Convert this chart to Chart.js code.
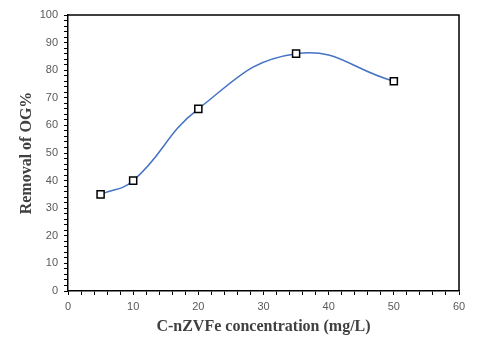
<!DOCTYPE html>
<html>
<head>
<meta charset="utf-8">
<script src="https://cdn.jsdelivr.net/npm/chart.js@4/dist/chart.umd.min.js"></script>
<style>
html,body{margin:0;padding:0;background:#fff;}
#wrap{width:480px;height:338px;position:relative;}
</style>
</head>
<body>
<div id="wrap"><canvas id="c" width="480" height="338"></canvas></div>
<script>
const concentrations = [5, 10, 20, 35, 50];
const removal = [35, 40, 66, 86, 76];
const xTitle = 'C-nZVFe concentration (mg/L)';
const yTitle = 'Removal of OG%';
const xRange = [0, 60];
const yRange = [0, 100];

const points = concentrations.map((x, i) => ({x: x, y: removal[i]}));

const framePlugin = {
  id: 'frame',
  afterDraw(chart) {
    const a = chart.chartArea, ctx = chart.ctx;
    ctx.save();
    ctx.strokeStyle = '#000';
    ctx.lineWidth = 1.5;
    ctx.beginPath();
    ctx.moveTo(a.left, a.top);
    ctx.lineTo(a.right, a.top);
    ctx.lineTo(a.right, a.bottom);
    ctx.stroke();
    ctx.restore();
  }
};

new Chart(document.getElementById('c'), {
  type: 'scatter',
  data: {
    datasets: [{
      data: points,
      showLine: true,
      borderColor: '#4472C4',
      borderWidth: 1.5,
      tension: 0.45,
      pointStyle: 'rect',
      pointRadius: 5,
      pointHoverRadius: 5,
      pointBackgroundColor: '#ffffff',
      pointBorderColor: '#000000',
      pointBorderWidth: 1.5
    }]
  },
  options: {
    responsive: false,
    animation: false,
    layout: {padding: {top: 15, right: 21, left: 0, bottom: 0}},
    plugins: {legend: {display: false}, tooltip: {enabled: false}},
    scales: {
      x: {
        type: 'linear',
        min: xRange[0], max: xRange[1],
        afterFit(s) { s.height = 47; },
        border: {display: true, color: '#000', width: 1.5},
        grid: {display: true, drawOnChartArea: false, drawTicks: true, tickLength: 4, tickColor: '#000', tickWidth: 1},
        ticks: {
          stepSize: 2, autoSkip: false, maxRotation: 0, maxTicksLimit: 100,
          padding: 5, color: '#595959',
          font: {family: 'Liberation Sans', size: 11},
          callback: v => (v % 10 === 0 ? String(v) : '')
        },
        title: {display: true, text: xTitle, color: '#404040',
          font: {family: 'Liberation Serif', size: 16, weight: 'bold'},
          padding: {top: 0, bottom: 2}}
      },
      y: {
        type: 'linear',
        min: yRange[0], max: yRange[1],
        afterFit(s) { s.width = 68; },
        border: {display: true, color: '#000', width: 1.5},
        grid: {display: true, drawOnChartArea: false, drawTicks: true, tickLength: 4, tickColor: '#000', tickWidth: 1},
        ticks: {
          stepSize: 2, autoSkip: false, maxTicksLimit: 100,
          padding: 6, color: '#595959',
          font: {family: 'Liberation Sans', size: 11},
          callback: v => (v % 10 === 0 ? String(v) : '')
        },
        title: {display: true, text: yTitle, color: '#404040',
          font: {family: 'Liberation Serif', size: 16, weight: 'bold'},
          padding: {top: 17, bottom: 0}}
      }
    }
  },
  plugins: [framePlugin]
});
</script>
</body>
</html>
